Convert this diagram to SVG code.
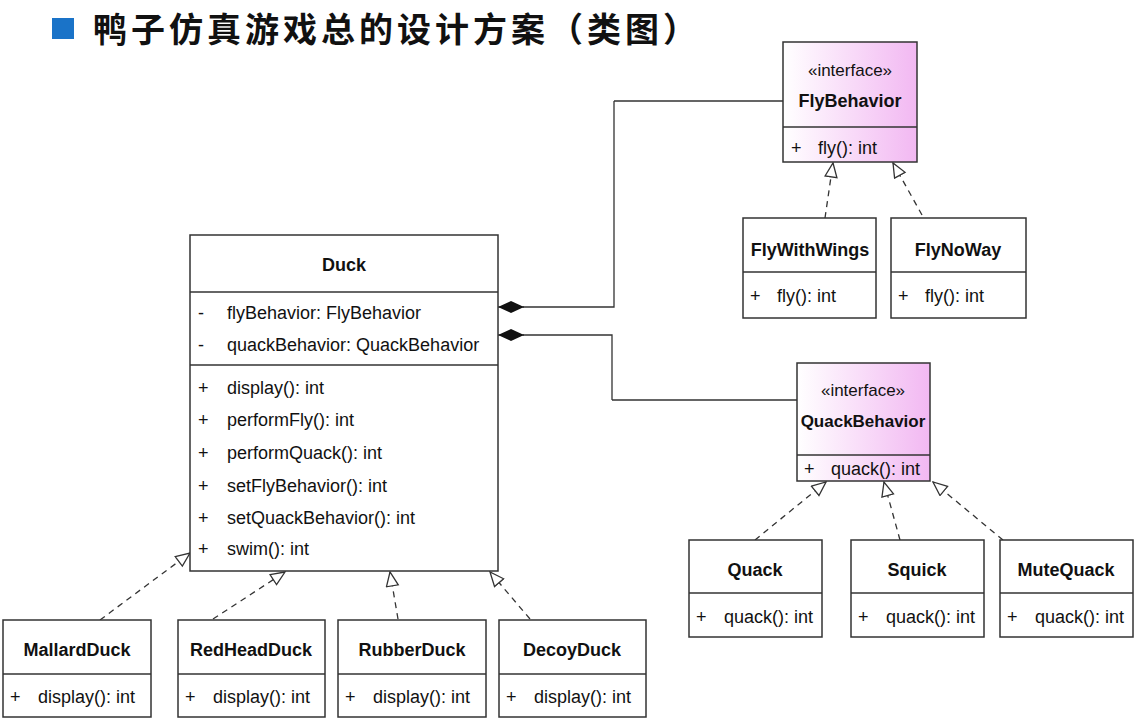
<svg xmlns="http://www.w3.org/2000/svg" width="1138" height="722" viewBox="0 0 1138 722">
<style>
.box{fill:#fff;stroke:#333;stroke-width:1.5}
.ibox{fill:url(#pink);stroke:#333;stroke-width:1.5}
.div{stroke:#333;stroke-width:1.5}
text{font-family:"Liberation Sans",Arial,sans-serif;font-size:18px;fill:#111}
.nm{font-weight:bold;text-anchor:middle}
.st{text-anchor:middle;font-size:17px}
.ln{fill:none;stroke:#333;stroke-width:1.3}
.dash{fill:none;stroke:#333;stroke-width:1.3;stroke-dasharray:6,5}
</style>
<defs>
<linearGradient id="pink" x1="0" y1="0" x2="1" y2="0"><stop offset="0" stop-color="#fff"/><stop offset="1" stop-color="#f2b8f2"/></linearGradient>
<marker id="tri" markerWidth="16" markerHeight="16" refX="15" refY="7" orient="auto" markerUnits="userSpaceOnUse"><path d="M1,1 L15,7 L1,13 Z" fill="#fff" stroke="#333" stroke-width="1.3"/></marker>
<marker id="dia" markerWidth="30" markerHeight="14" refX="1" refY="7" orient="auto" markerUnits="userSpaceOnUse"><path d="M1,7 L14,1 L27,7 L14,13 Z" fill="#111"/></marker>
</defs>
<rect x="52" y="18" width="22" height="21" fill="#1a73c8"/>
<text x="93" y="42" style="font-family:'Noto Sans CJK SC',sans-serif;font-size:34px;font-weight:bold;letter-spacing:4px">鸭子仿真游戏总的设计方案（类图）</text>
<g id="connectors">
<path class="ln" d="M614,101 L783,101 M614,101 L614,307 L523,307" />
<path class="ln" d="M498,307 L524,307" marker-start="url(#dia)"/>
<path class="ln" d="M612,400 L797,400 M612,400 L612,335 L523,335"/>
<path class="ln" d="M498,335 L524,335" marker-start="url(#dia)"/>
<path class="dash" d="M825,218 L833,163" marker-end="url(#tri)"/>
<path class="dash" d="M922,215 L893,163" marker-end="url(#tri)"/>
<path class="dash" d="M755,540 L826,482" marker-end="url(#tri)"/>
<path class="dash" d="M900,540 L884,482" marker-end="url(#tri)"/>
<path class="dash" d="M1003,540 L933,482" marker-end="url(#tri)"/>
<path class="dash" d="M100,620 L190,553" marker-end="url(#tri)"/>
<path class="dash" d="M213,619 L285,572" marker-end="url(#tri)"/>
<path class="dash" d="M398,619 L390,572" marker-end="url(#tri)"/>
<path class="dash" d="M530,619 L490,572" marker-end="url(#tri)"/>
</g>
<g id="FlyBehavior"><rect class="ibox" x="783" y="42" width="134" height="120"/><line class="div" x1="783" y1="127" x2="917" y2="127"/>
<text class="st" x="850" y="76">«interface»</text><text class="nm" x="850" y="107">FlyBehavior</text><text x="791" y="154">+</text><text x="818" y="154">fly(): int</text></g>
<g id="FlyWithWings"><rect class="box" x="743" y="218" width="133" height="100"/><line class="div" x1="743" y1="272" x2="876" y2="272"/>
<text class="nm" x="810" y="256">FlyWithWings</text><text x="750" y="302">+</text><text x="777" y="302">fly(): int</text></g>
<g id="FlyNoWay"><rect class="box" x="891" y="218" width="135" height="100"/><line class="div" x1="891" y1="272" x2="1026" y2="272"/>
<text class="nm" x="958" y="256">FlyNoWay</text><text x="898" y="302">+</text><text x="925" y="302">fly(): int</text></g>
<g id="Duck"><rect class="box" x="190" y="235" width="308" height="336"/><line class="div" x1="190" y1="292" x2="498" y2="292"/><line class="div" x1="190" y1="365" x2="498" y2="365"/>
<text class="nm" x="344" y="271">Duck</text>
<text x="198" y="319">-</text><text x="227" y="319">flyBehavior: FlyBehavior</text>
<text x="198" y="351">-</text><text x="227" y="351">quackBehavior: QuackBehavior</text>
<text x="198" y="394">+</text><text x="227" y="394">display(): int</text>
<text x="198" y="426">+</text><text x="227" y="426">performFly(): int</text>
<text x="198" y="459">+</text><text x="227" y="459">performQuack(): int</text>
<text x="198" y="492">+</text><text x="227" y="492">setFlyBehavior(): int</text>
<text x="198" y="524">+</text><text x="227" y="524">setQuackBehavior(): int</text>
<text x="198" y="555">+</text><text x="227" y="555">swim(): int</text></g>
<g id="QuackBehavior"><rect class="ibox" x="797" y="363" width="133" height="118"/><line class="div" x1="797" y1="455" x2="930" y2="455"/>
<text class="st" x="863" y="396">«interface»</text><text class="nm" x="863" y="427" style="font-size:17px">QuackBehavior</text><text x="804" y="475">+</text><text x="831" y="475">quack(): int</text></g>
<g id="Quack"><rect class="box" x="689" y="540" width="133" height="97"/><line class="div" x1="689" y1="593" x2="822" y2="593"/>
<text class="nm" x="755" y="576">Quack</text><text x="696" y="623">+</text><text x="724" y="623">quack(): int</text></g>
<g id="Squick"><rect class="box" x="851" y="540" width="133" height="97"/><line class="div" x1="851" y1="593" x2="984" y2="593"/>
<text class="nm" x="917" y="576">Squick</text><text x="858" y="623">+</text><text x="886" y="623">quack(): int</text></g>
<g id="MuteQuack"><rect class="box" x="1000" y="540" width="133" height="97"/><line class="div" x1="1000" y1="593" x2="1133" y2="593"/>
<text class="nm" x="1066" y="576">MuteQuack</text><text x="1007" y="623">+</text><text x="1035" y="623">quack(): int</text></g>
<g id="MallardDuck"><rect class="box" x="3" y="620" width="148" height="97"/><line class="div" x1="3" y1="674" x2="151" y2="674"/>
<text class="nm" x="77" y="656">MallardDuck</text><text x="10" y="703">+</text><text x="38" y="703">display(): int</text></g>
<g id="RedHeadDuck"><rect class="box" x="178" y="620" width="147" height="97"/><line class="div" x1="178" y1="674" x2="325" y2="674"/>
<text class="nm" x="251" y="656">RedHeadDuck</text><text x="185" y="703">+</text><text x="213" y="703">display(): int</text></g>
<g id="RubberDuck"><rect class="box" x="338" y="620" width="148" height="97"/><line class="div" x1="338" y1="674" x2="486" y2="674"/>
<text class="nm" x="412" y="656">RubberDuck</text><text x="345" y="703">+</text><text x="373" y="703">display(): int</text></g>
<g id="DecoyDuck"><rect class="box" x="499" y="620" width="147" height="97"/><line class="div" x1="499" y1="674" x2="646" y2="674"/>
<text class="nm" x="572" y="656">DecoyDuck</text><text x="506" y="703">+</text><text x="534" y="703">display(): int</text></g>
</svg>
